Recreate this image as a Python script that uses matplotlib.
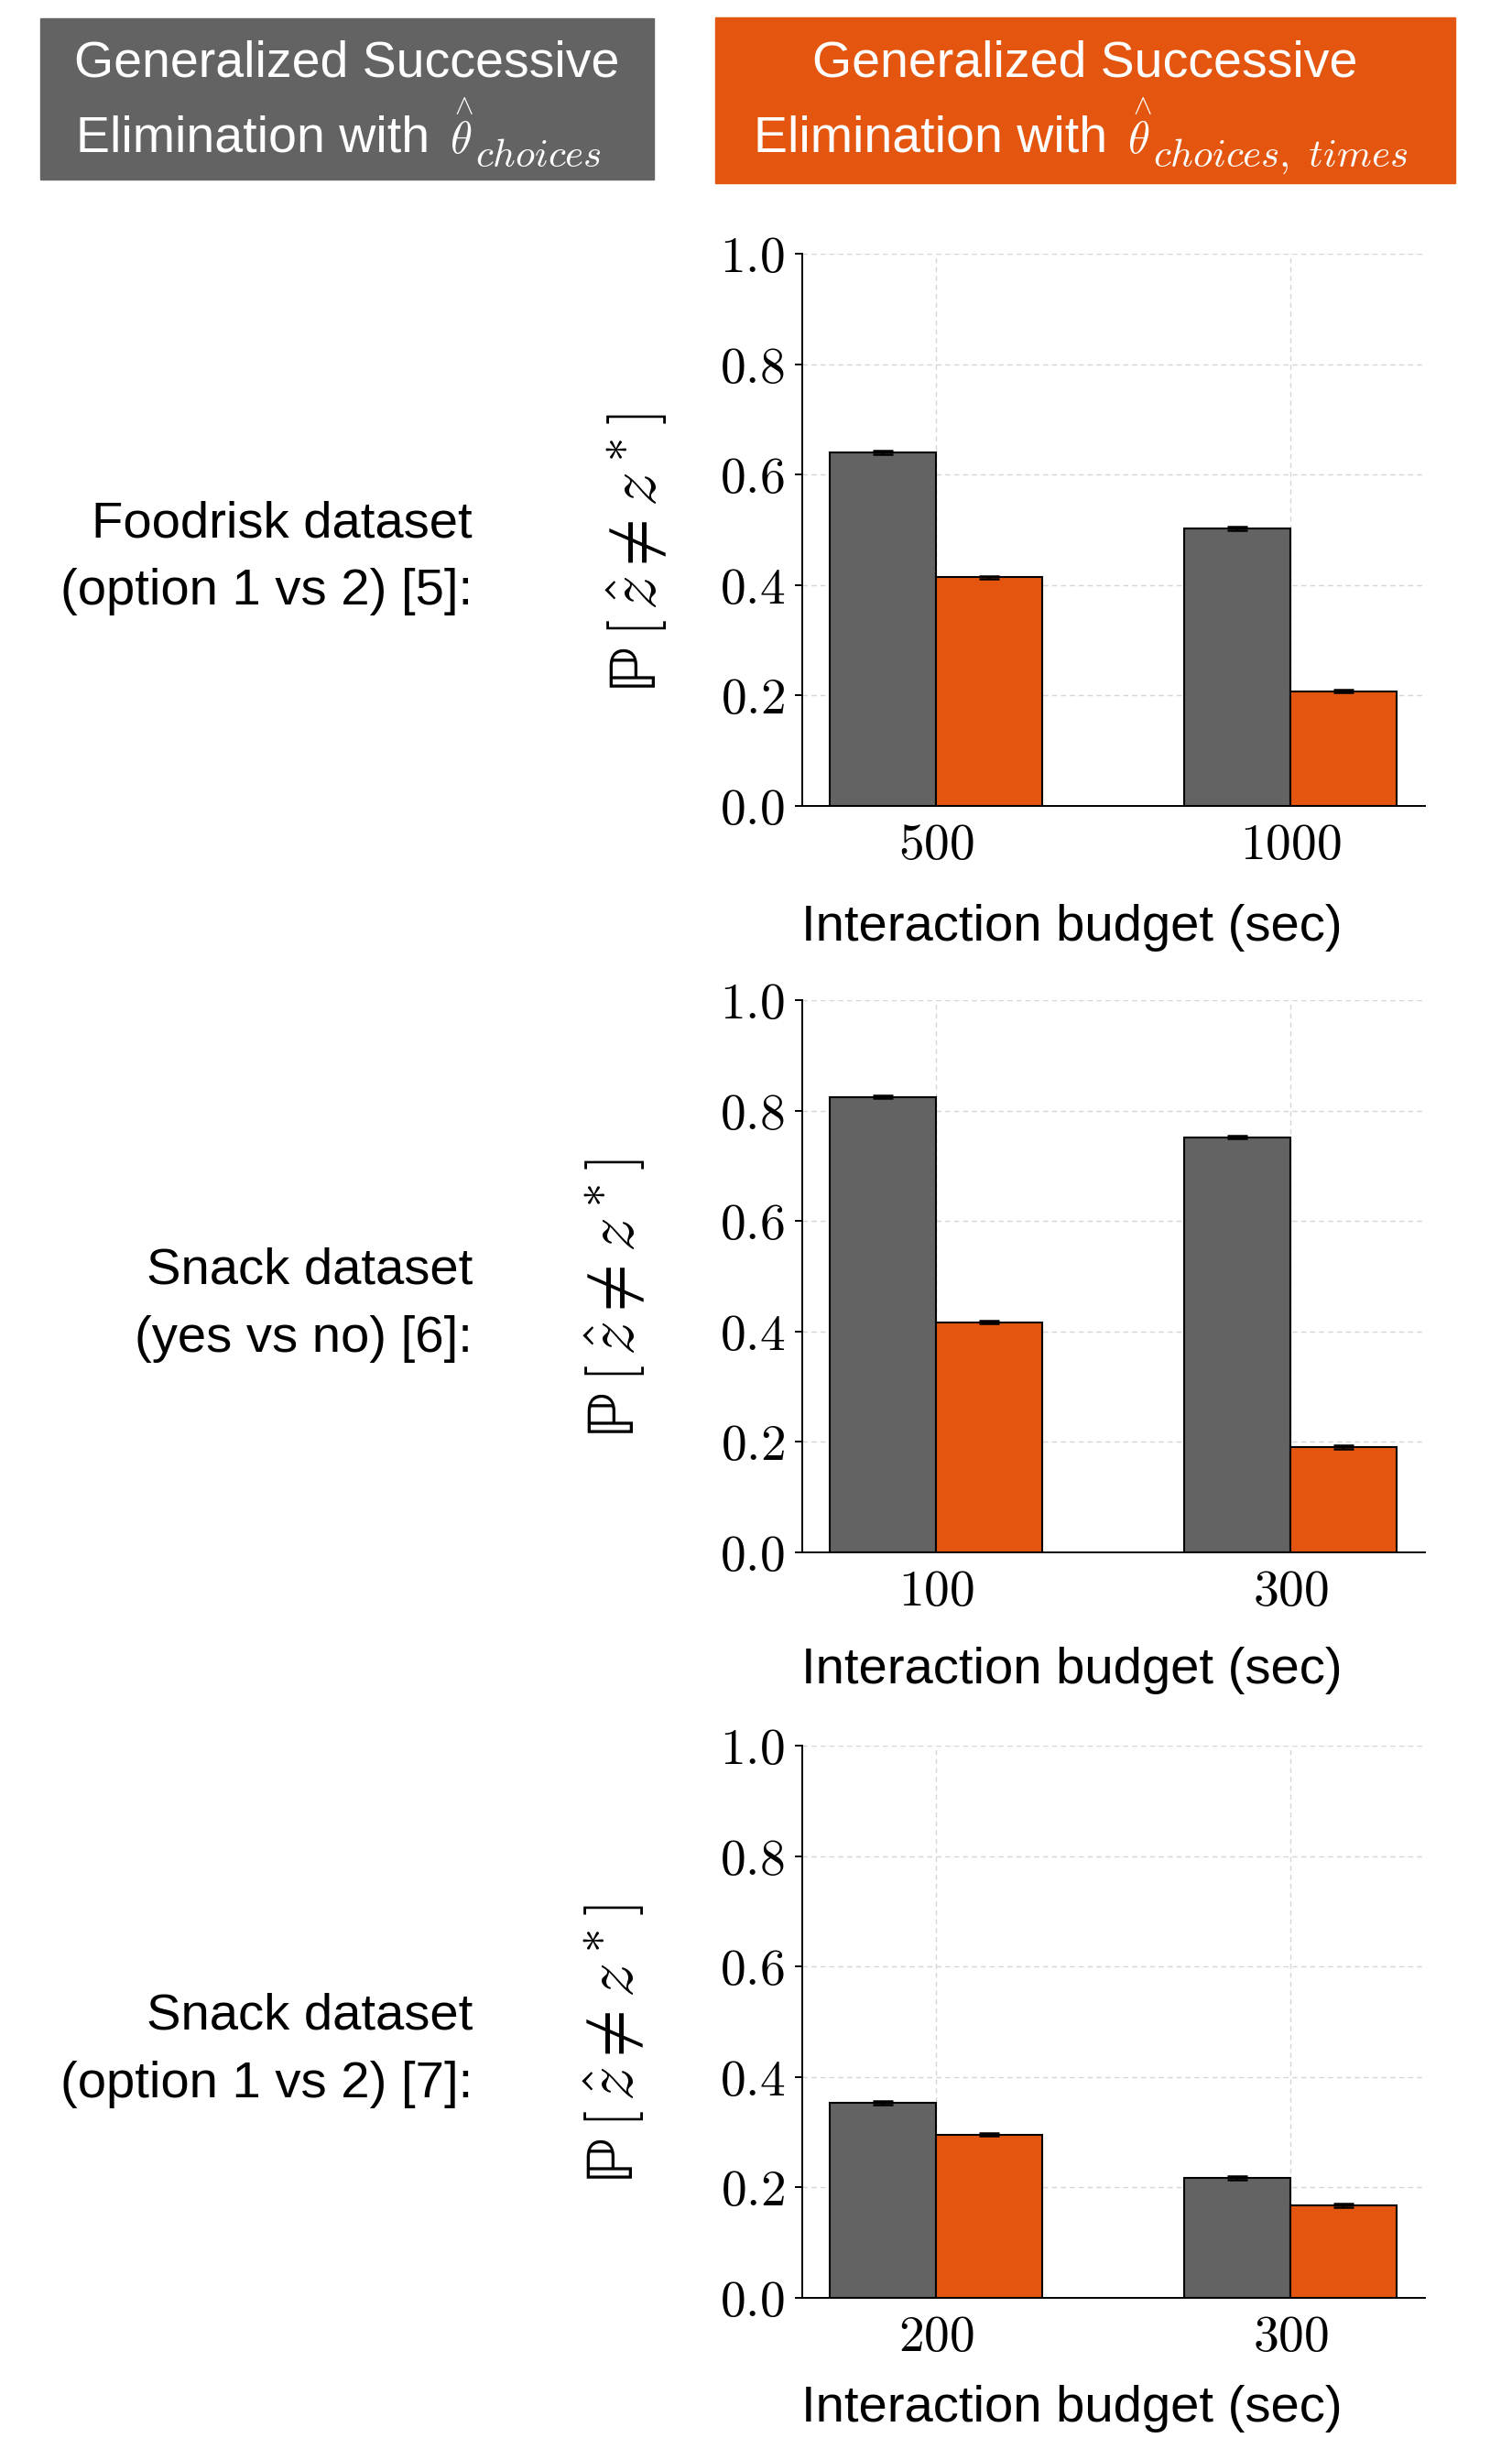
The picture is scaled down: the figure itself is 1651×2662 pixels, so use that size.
import matplotlib
matplotlib.use("Agg")
import matplotlib.pyplot as plt
import numpy as np
from matplotlib.patches import Rectangle

plt.rcParams['font.family'] = ['Liberation Sans', 'DejaVu Sans']
plt.rcParams['mathtext.fontset'] = 'cm'

GRAY = '#636363'
ORANGE = '#E4560F'

# data
row_labels = ["Foodrisk dataset\n(option 1 vs 2) [5]:",
              "Snack dataset\n(yes vs no) [6]:",
              "Snack dataset\n(option 1 vs 2) [7]:"]
budgets = [[500, 1000], [100, 300], [200, 300]]
p_choices = [[0.640, 0.503], [0.825, 0.752], [0.353, 0.217]]
p_times = [[0.414, 0.208], [0.417, 0.191], [0.296, 0.167]]
se_choices = [[0.003, 0.003], [0.003, 0.003], [0.003, 0.003]]
se_times = [[0.003, 0.003], [0.003, 0.003], [0.003, 0.003]]
yticks = [0.0, 0.2, 0.4, 0.6, 0.8, 1.0]
subscripts = [r"$choices$", r"$choices,\ times$"]

W, H = 1651, 2662
fig = plt.figure(figsize=(W / 100, H / 100), dpi=100)
renderer = fig.canvas.get_renderer()


def fx(px):
    return px / W


def fy(py):
    return 1 - py / H


# header boxes
boxes = [(44, 20, 714, 196, GRAY), (781, 19, 1589, 200, ORANGE)]
line2_left = [82.5, 823]
for k, (x0, y0, x1, y1, col) in enumerate(boxes):
    fig.patches.append(Rectangle((fx(x0), fy(y1)), fx(x1) - fx(x0), fy(y0) - fy(y1),
                                 transform=fig.transFigure, color=col, zorder=0))
    cx = (x0 + x1) / 2
    fig.text(fx(cx), fy(84), "Generalized Successive", color='white',
             fontsize=40, ha='center', va='baseline')
    t = fig.text(fx(line2_left[k]), fy(166), "Elimination with", color='white',
                 fontsize=40, ha='left', va='baseline')
    xe = line2_left[k] + t.get_window_extent(renderer).width
    th_x = xe + 22
    th = fig.text(fx(th_x), fy(167), r"$\theta$", color='white', fontsize=35,
                  ha='left', va='baseline')
    thw = th.get_window_extent(renderer).width
    fig.text(fx(th_x + thw / 2 + 4), fy(101), r"$\wedge$", color='white',
             fontsize=22, ha='center', va='top')
    fig.text(fx(th_x + thw + 4), fy(182), subscripts[k], color='white',
             fontsize=31, ha='left', va='baseline')

ax_left, ax_w, ax_h = 875.5, 680.5, 603
tops = [277, 1092, 1906]
ylab_xy = [(697, 604), (672.5, 1418), (672, 2232)]
xlab_base = [146.7, 142.7, 135.5]

x = np.arange(2)
w = 0.3
for i in range(3):
    top = tops[i]
    ax = fig.add_axes([fx(ax_left), fy(top + ax_h), ax_w / W, ax_h / H])
    ekw = dict(ecolor='black', elinewidth=1.6, capthick=1.8)
    ax.bar(x - w / 2, p_choices[i], w, yerr=se_choices[i], color=GRAY,
           edgecolor='black', linewidth=1.5, capsize=8, error_kw=ekw)
    ax.bar(x + w / 2, p_times[i], w, yerr=se_times[i], color=ORANGE,
           edgecolor='black', linewidth=1.5, capsize=8, error_kw=ekw)
    ax.set_ylim(0, 1.0)
    ax.set_yticks(yticks)
    ax.set_yticklabels([r'$%.1f$' % t for t in yticks])
    ax.set_xticks(x)
    ax.set_xticklabels([r'$%d$' % b for b in budgets[i]])
    ax.tick_params(axis='y', labelsize=40, length=5.8, width=1.4, pad=7.5)
    ax.tick_params(axis='x', labelsize=40, length=0, pad=13)
    ax.grid(True, color='#d6d6d6', linestyle=(0, (4, 3)), linewidth=1.0)
    ax.set_axisbelow(True)
    for s in ['top', 'right']:
        ax.spines[s].set_visible(False)
    for s in ['left', 'bottom']:
        ax.spines[s].set_linewidth(1.4)

    ax.set_xlabel("Interaction budget (sec)", fontsize=40.5, va='baseline', ha='center')
    ax.xaxis.set_label_coords((1170.6 - ax_left) / ax_w, -xlab_base[i] / ax_h)

    lx, ly = ylab_xy[i]
    ax.set_ylabel(r'$\mathrm{ℙ}\,\left[\,\hat{z} \neq z^*\right]$', fontsize=54,
                  va='center', ha='center')
    ax.yaxis.set_label_coords((lx - ax_left) / ax_w, 1 - (ly - top) / ax_h)

    fig.text(fx(516), fy(top + ax_h / 2 + 31), row_labels[i], fontsize=40.5,
             ha='right', va='center', linespacing=1.55)

fig.savefig("out.png", dpi=100)
